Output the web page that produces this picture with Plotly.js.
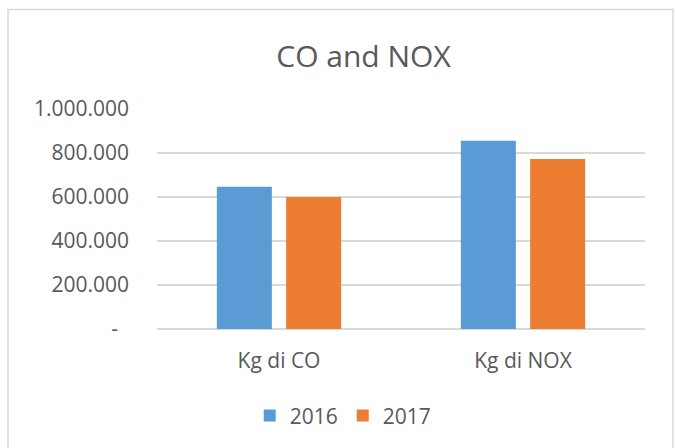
<!DOCTYPE html>
<html>
<head>
<meta charset="utf-8">
<script src="https://cdn.plot.ly/plotly-3.0.1.min.js"></script>
<style>html,body{margin:0;padding:0;background:#fff;}#chart{width:675px;height:448px;}</style>
</head>
<body>
<div id="chart"></div>
<script>
const categories = ["Kg di CO", "Kg di NOX"];
const series2016 = [647000, 856000];
const series2017 = [600000, 773000];
const seriesNames = ["2016", "2017"];
const tickValues = [0, 200000, 400000, 600000, 800000, 1000000];
const tickLabels = ["-\u00a0\u00a0", "200.000", "400.000", "600.000", "800.000", "1.000.000"];

const font = "Open Sans, Noto Sans, sans-serif";
const txt = "#595959";
const grid = "#d9d9d9";

const traces = [
  {type: "bar", name: seriesNames[0], x: categories, y: series2016,
   marker: {color: "#5b9bd5"}, hoverinfo: "none"},
  {type: "bar", name: seriesNames[1], x: categories, y: series2017,
   marker: {color: "#ed7d31"}, hoverinfo: "none"}
];

const layout = {
  width: 675, height: 448,
  margin: {l: 157, r: 30, t: 109, b: 119, pad: 0},
  paper_bgcolor: "#ffffff", plot_bgcolor: "#ffffff",
  font: {family: font, color: txt, size: 21},
  title: {text: "CO and NOX", font: {family: font, size: 30, color: txt},
          x: 0.5385, xanchor: "center", xref: "container",
          y: 0.875, yanchor: "middle", yref: "container"},
  barmode: "group", bargap: 0.432, bargroupgap: 0.206,
  showlegend: true,
  legend: {orientation: "h", x: 0.19, xanchor: "left", y: -0.395, yanchor: "middle",
           itemwidth: 30, tracegroupgap: 0,
           font: {family: font, size: 21, color: txt}, bgcolor: "rgba(0,0,0,0)"},
  xaxis: {type: "category", showgrid: false, zeroline: false, showline: false,
          ticks: "", ticklabelstandoff: 17, tickfont: {family: font, size: 21, color: txt}},
  yaxis: {range: [0, 1000000], tickvals: tickValues, ticktext: tickLabels,
          showgrid: true, gridcolor: grid, gridwidth: 1.5, zeroline: true, zerolinecolor: grid,
          zerolinewidth: 1.5, showline: false, ticks: "", ticklabelstandoff: 27,
          tickfont: {family: font, size: 21, color: txt}},
  shapes: [{type: "rect", xref: "paper", yref: "paper",
            x0: (8 - 157) / 488, x1: (673 - 157) / 488,
            y0: -0.6, y1: (328.7 - 10) / 219.4,
            line: {color: grid, width: 1.5}, layer: "below"}]
};

Plotly.newPlot("chart", traces, layout, {staticPlot: true, displayModeBar: false});
</script>
</body>
</html>
